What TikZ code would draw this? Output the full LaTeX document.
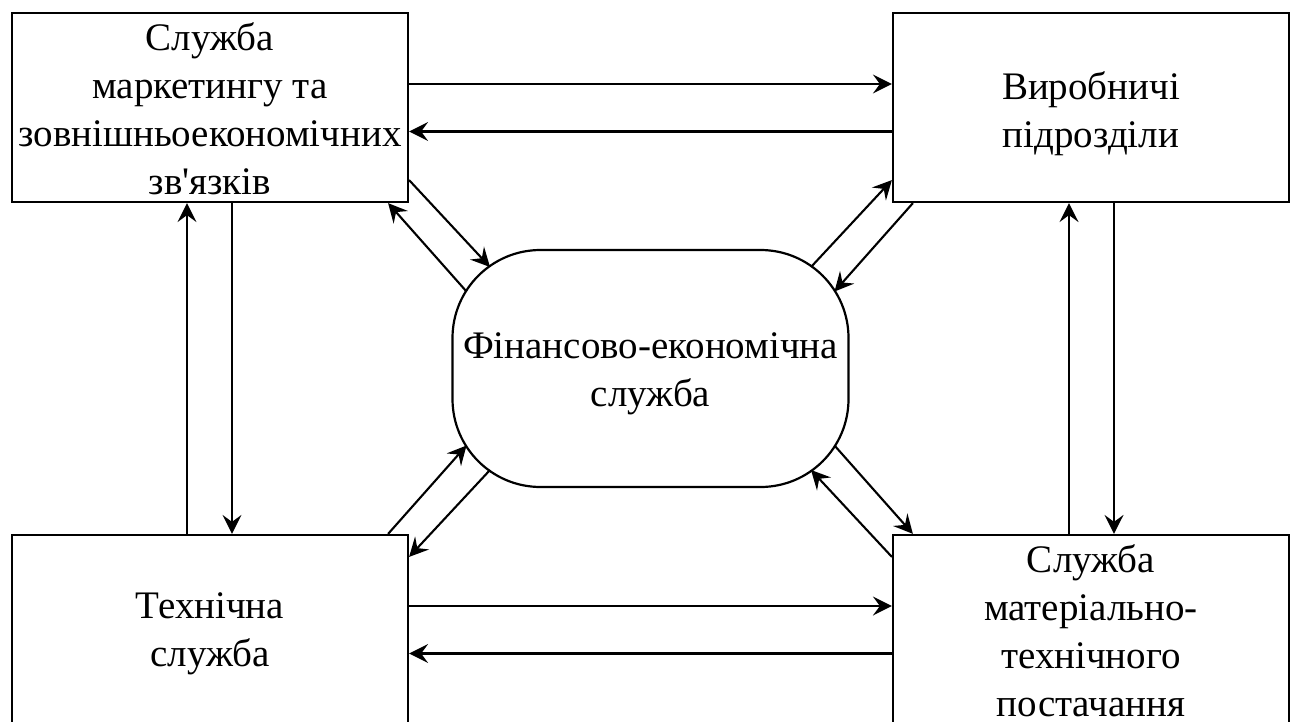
\documentclass[tikz,border=0pt]{standalone}
\usepackage{fontspec}
\setmainfont{Liberation Serif}[Ligatures=TeXOff]
\usetikzlibrary{arrows.meta}
\begin{document}
\begin{tikzpicture}[x=1pt,y=-1pt,
  box/.style={draw, line width=2.2pt, minimum width=396pt, minimum height=189pt, inner sep=0pt},
  hub/.style={box, minimum height=237pt, rounded corners=88pt},
  txt/.style={inner sep=0pt, align=center, font=\fontsize{39}{48}\selectfont},
  link/.style={line width=2.1pt, -{Stealth[length=19pt,width=19pt,inset=7pt]}}]
\useasboundingbox (0,0) rectangle (1298,722);

% departments
\node[box] (mk) at (210,107.5) {};
\node[box] (vr) at (1091,107.5) {};
\node[box] (th) at (210,629.5) {};
\node[box] (mt) at (1091,629.5) {};
\node[hub] (fe) at (650.5,368.5) {};

% their names
\node[txt] at ([yshift=-1pt]mk.center) {Служба\\маркетингу та\\зовнішньоекономічних\\зв'язків};
\node[txt] at ([yshift=-6pt]vr.center) {Виробничі\\підрозділи};
\node[txt] at ([yshift=-4pt]th.center) {Технічна\\служба};
\node[txt] at ([yshift=-1pt]mt.center) {Служба\\матеріально-\\технічного\\постачання};
\node[txt] at ([yshift=-5pt]fe.center) {Фінансово-економічна\\служба};

% horizontal links
\draw[link] ([yshift=23.5pt]mk.east) -- ([yshift=23.5pt]vr.west);
\draw[link] ([yshift=-24pt]vr.west) -- ([yshift=-24pt]mk.east);
\draw[link] ([yshift=23.5pt]th.east) -- ([yshift=23.5pt]mt.west);
\draw[link] ([yshift=-24pt]mt.west) -- ([yshift=-24pt]th.east);

% vertical links
\draw[link] ([xshift=-23pt]th.north) -- ([xshift=-23pt]mk.south);
\draw[link] ([xshift=22pt]mk.south) -- ([xshift=22pt]th.north);
\draw[link] ([xshift=-22pt]mt.north) -- ([xshift=-22pt]vr.south);
\draw[link] ([xshift=23pt]vr.south) -- ([xshift=23pt]mt.north);

% diagonal links to the financial service
\draw[link] ([yshift=23pt]mk.south east) -- ([xshift=-160.5pt,yshift=101.5pt]fe.center);
\draw[link] ([xshift=-184pt,yshift=77pt]fe.center) -- ([xshift=-21pt]mk.south east);

\draw[link] ([xshift=160.5pt,yshift=101.5pt]fe.center) -- ([yshift=23pt]vr.south west);
\draw[link] ([xshift=21pt]vr.south west) -- ([xshift=184pt,yshift=77pt]fe.center);

\draw[link] ([xshift=-160.5pt,yshift=-101.5pt]fe.center) -- ([yshift=-23pt]th.north east);
\draw[link] ([xshift=-21pt]th.north east) -- ([xshift=-184pt,yshift=-77pt]fe.center);

\draw[link] ([yshift=-23pt]mt.north west) -- ([xshift=160.5pt,yshift=-101.5pt]fe.center);
\draw[link] ([xshift=184pt,yshift=-77pt]fe.center) -- ([xshift=21pt]mt.north west);
\end{tikzpicture}
\end{document}
